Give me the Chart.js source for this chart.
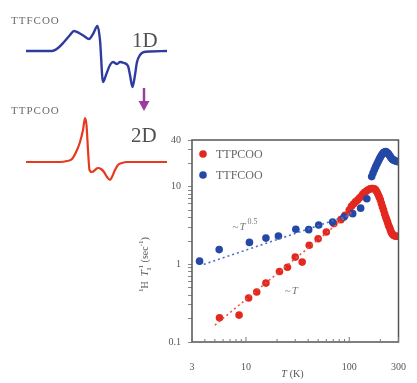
<!DOCTYPE html>
<html>
<head>
<meta charset="utf-8">
<script src="https://cdn.jsdelivr.net/npm/chart.js@4.4.1/dist/chart.umd.min.js"></script>
<style>
  body { margin: 0; background: #fff; }
  #wrap { position: relative; width: 417px; height: 383px; }
  #wrap canvas { position: absolute; left: 0; top: 0; }
</style>
</head>
<body>
<div id="wrap">
  <canvas id="rateChart" width="417" height="383"></canvas>
  <canvas id="specChart" width="200" height="200"></canvas>
</div>
<script>
// ---- relaxation rate data (T in K, 1H T1^-1 in sec^-1)
const seriesNames = ['TTPCOO', 'TTFCOO'];

const tempBlue = [3.55, 5.5, 10.8, 15.6, 20.6, 30.4, 40.5, 50.6, 69, 89, 108, 129, 148,
  165, 170, 175, 180, 185, 190, 195, 200, 205, 210, 215, 220, 225, 230, 235, 240, 245,
  250, 255, 260, 265, 270, 280, 290, 300];
const rateBlue = [1.10, 1.55, 1.92, 2.18, 2.32, 2.83, 2.8, 3.21, 3.51, 4.08, 4.5, 5.3, 7.0,
  13.5, 15, 16.5, 18, 19.5, 21, 22.5, 24, 25.5, 26.5, 27.5, 28, 28.3, 28, 27.2, 26.5, 25.5,
  24.5, 23.5, 22.8, 22.3, 22, 21.5, 21.2, 21];

const tempRed = [5.54, 8.57, 10.6, 12.7, 15.6, 21.1, 25.2, 30, 35, 41, 50, 60, 71, 83, 91,
  100, 105, 110, 115, 120, 125, 130, 135, 140, 145, 150, 155, 160, 165, 170, 175, 180, 185,
  190, 195, 200, 205, 210, 215, 220, 225, 230, 235, 240, 245, 250, 255, 260, 265, 270, 280, 290, 300];
const rateRed = [0.205, 0.222, 0.368, 0.44, 0.574, 0.81, 0.92, 1.24, 1.07, 1.76, 2.14, 2.61, 3.35, 3.77, 4.29,
  5.0, 5.6, 6.0, 6.4, 6.7, 7.1, 7.5, 8.0, 8.4, 8.7, 9.0, 9.2, 9.4, 9.5, 9.5, 9.4, 9.1, 8.6,
  8.0, 7.4, 6.8, 6.1, 5.5, 5.0, 4.5, 4.1, 3.8, 3.5, 3.2, 3.0, 2.8, 2.6, 2.5, 2.4, 2.35, 2.3, 2.3, 2.3];

// power-law guides
const fitBlueT = [3.9, 105];
const fitBlueRate = [1.0, 4.4];
const fitRedT = [5, 110];
const fitRedRate = [0.165, 4.95];

const xTickLabels = [3, 10, 100, 300];
const yTickLabels = [0.1, 1, 10, 40];

// ---- EPR-like spectra (arbitrary field / signal units)
const fieldBlue = [26, 52, 58, 64, 70, 74, 79, 84, 89, 93, 97.5, 100, 103, 106, 110, 113, 117,
  120, 124, 128, 130, 132.5, 135, 137, 140, 144, 150, 167];
const signalBlue = [0, 0, 3, 9, 16, 20, 18, 15, 12, 17, 25, 11, -31, -24, -14, -11, -13,
  -11, -12, -15, -24, -36, -24, -11, -4, -1, -0.5, 0];
const fieldRed = [26, 60, 67, 72, 77, 80, 83, 85, 86.5, 88, 89.5, 92, 95, 98, 101, 104, 107,
  110, 112, 115, 118, 122, 127, 167];
const signalRed = [0, 0, 1, 3, 12, 20, 32, 44, 37, 12, -8, -10, -8, -6, -7, -10, -15,
  -18, -15, -8, -3, -1, 0, 0];

const RED = '#e3281f';
const BLUE = '#2448a6';
const SERIF = '"Liberation Serif", "DejaVu Serif", serif';

function pts(xs, ys) {
  return xs.map((x, i) => ({ x: x, y: ys[i] }));
}

function logTicks(min, max) {
  const out = [];
  for (let e = -2; e <= 3; e++) {
    for (let m = 1; m <= 9; m++) {
      const v = +(m * Math.pow(10, e)).toPrecision(3);
      if (v >= min - 1e-9 && v <= max + 1e-9) out.push({ value: v });
    }
  }
  return out;
}

// frame, inward x ticks, legend, axis titles, annotations
const ratePlugin = {
  id: 'ratePlugin',
  afterDraw(chart) {
    const ctx = chart.ctx;
    const a = chart.chartArea;
    const xs = chart.scales.x, ys = chart.scales.y;
    ctx.save();
    ctx.strokeStyle = '#555';
    ctx.lineWidth = 1.5;
    ctx.strokeRect(a.left, a.top, a.right - a.left, a.bottom - a.top);

    // x ticks pointing inward
    ctx.lineWidth = 1;
    ctx.strokeStyle = '#777';
    xs.ticks.forEach(t => {
      const px = xs.getPixelForValue(t.value);
      const major = xTickLabels.includes(t.value);
      ctx.beginPath();
      ctx.moveTo(px, a.bottom);
      ctx.lineTo(px, a.bottom - (major ? 5 : 3));
      ctx.stroke();
    });

    // legend
    const colors = [RED, BLUE];
    ctx.font = '12px ' + SERIF;
    ctx.textBaseline = 'middle';
    seriesNames.forEach((name, i) => {
      const y = a.top + 14 + i * 21;
      ctx.fillStyle = colors[i];
      ctx.beginPath();
      ctx.arc(a.left + 11, y, 3.8, 0, Math.PI * 2);
      ctx.fill();
      ctx.fillStyle = '#666';
      ctx.fillText(name, a.left + 24, y + 1);
    });

    // annotations
    ctx.fillStyle = '#777';
    ctx.textBaseline = 'alphabetic';
    let px = xs.getPixelForValue(7.4), py = ys.getPixelForValue(2.74);
    ctx.font = '11px ' + SERIF;
    ctx.fillText('~', px, py);
    let w = ctx.measureText('~').width;
    ctx.font = 'italic 11px ' + SERIF;
    ctx.fillText('T', px + w + 1, py);
    w += ctx.measureText('T').width + 3;
    ctx.font = '8px ' + SERIF;
    ctx.fillText('0.5', px + w, py - 6);

    px = xs.getPixelForValue(23.8); py = ys.getPixelForValue(0.42);
    ctx.font = '11px ' + SERIF;
    ctx.fillText('~', px, py);
    w = ctx.measureText('~').width;
    ctx.font = 'italic 11px ' + SERIF;
    ctx.fillText('T', px + w + 1, py);

    // x title
    ctx.fillStyle = '#555';
    ctx.textAlign = 'left';
    const cx = (a.left + a.right) / 2;
    ctx.font = 'italic 10px ' + SERIF;
    ctx.fillText('T', cx - 14, 377);
    ctx.font = '10px ' + SERIF;
    ctx.fillText(' (K)', cx - 8, 377);

    // y title (rotated)
    ctx.translate(148, 292);
    ctx.rotate(-Math.PI / 2);
    let x0 = 0;
    const seg = (txt, font, dy) => {
      ctx.font = font;
      ctx.fillText(txt, x0, dy);
      x0 += ctx.measureText(txt).width;
    };
    seg('1', '7px ' + SERIF, -5);
    seg('H  ', '10px ' + SERIF, 0);
    seg('T', 'italic 10px ' + SERIF, 0);
    const xs1 = x0;
    seg('-1', '7px ' + SERIF, -5);
    ctx.font = '7px ' + SERIF;
    ctx.fillText('1', xs1, 3);
    seg(' (sec', '10px ' + SERIF, 0);
    seg('-1', '7px ' + SERIF, -5);
    seg(')', '10px ' + SERIF, 0);
    ctx.restore();
  }
};

new Chart(document.getElementById('rateChart'), {
  type: 'scatter',
  data: {
    datasets: [
      { label: 'fit ~T^0.5', data: pts(fitBlueT, fitBlueRate), showLine: true, pointRadius: 0,
        borderColor: '#4a72c4', borderWidth: 1.6, borderDash: [2, 3] },
      { label: 'fit ~T', data: pts(fitRedT, fitRedRate), showLine: true, pointRadius: 0,
        borderColor: '#e0584a', borderWidth: 1.6, borderDash: [2, 3] },
      { label: seriesNames[1], data: pts(tempBlue, rateBlue), backgroundColor: BLUE,
        borderWidth: 0, pointRadius: 3.8 },
      { label: seriesNames[0], data: pts(tempRed, rateRed), backgroundColor: RED,
        borderWidth: 0, pointRadius: 3.8 }
    ]
  },
  options: {
    responsive: false,
    animation: false,
    events: [],
    layout: { padding: { top: 140, right: 8, left: 0, bottom: 0 } },
    plugins: { legend: { display: false }, tooltip: { enabled: false } },
    scales: {
      x: {
        type: 'logarithmic', min: 3, max: 300,
        afterFit: s => { s.height = 41; },
        afterBuildTicks: s => { s.ticks = logTicks(3, 300); },
        grid: { display: false },
        border: { display: false },
        ticks: {
          autoSkip: false, maxRotation: 0, padding: 11, color: '#555',
          font: { family: SERIF, size: 10 },
          callback: v => xTickLabels.includes(v) ? String(v) : ''
        }
      },
      y: {
        type: 'logarithmic', min: 0.1, max: 40,
        afterFit: s => { s.width = 192; },
        afterBuildTicks: s => { s.ticks = logTicks(0.1, 40); },
        grid: { drawOnChartArea: false, drawTicks: true, tickLength: 4, color: '#888' },
        border: { display: false },
        ticks: {
          autoSkip: false, padding: 7, color: '#555',
          font: { family: SERIF, size: 10 },
          callback: v => yTickLabels.includes(v) ? String(v) : ''
        }
      }
    }
  },
  plugins: [ratePlugin]
});

// ---- spectra panel
const BASE_BLUE = 51, BASE_RED = 162;

const specPlugin = {
  id: 'specPlugin',
  afterDraw(chart) {
    const ctx = chart.ctx;
    ctx.save();
    ctx.fillStyle = '#6a6a6a';
    ctx.font = '11px ' + SERIF;
    ctx.letterSpacing = '1px';
    ctx.textBaseline = 'alphabetic';
    ctx.fillText('TTFCOO', 11, 24);
    ctx.fillText('TTPCOO', 11, 114);
    ctx.letterSpacing = '0px';
    ctx.fillStyle = '#505050';
    ctx.font = '21px ' + SERIF;
    ctx.fillText('1D', 132, 47);
    ctx.fillText('2D', 131, 142);
    // arrow
    ctx.strokeStyle = '#9c3c9e';
    ctx.fillStyle = '#9c3c9e';
    ctx.lineWidth = 2.5;
    ctx.beginPath();
    ctx.moveTo(144, 88);
    ctx.lineTo(144, 104);
    ctx.stroke();
    ctx.beginPath();
    ctx.moveTo(138.5, 101);
    ctx.lineTo(149.5, 101);
    ctx.lineTo(144, 111);
    ctx.closePath();
    ctx.fill();
    ctx.restore();
  }
};

new Chart(document.getElementById('specChart'), {
  type: 'line',
  data: {
    datasets: [
      { label: 'TTFCOO', data: fieldBlue.map((f, i) => ({ x: f, y: signalBlue[i] - BASE_BLUE })),
        borderColor: '#2f3b9e', borderWidth: 2.4, pointRadius: 0, cubicInterpolationMode: 'monotone', clip: false },
      { label: 'TTPCOO', data: fieldRed.map((f, i) => ({ x: f, y: signalRed[i] - BASE_RED })),
        borderColor: '#e8381f', borderWidth: 2.2, pointRadius: 0, cubicInterpolationMode: 'monotone', clip: false }
    ]
  },
  options: {
    responsive: false,
    animation: false,
    events: [],
    layout: { padding: 0 },
    plugins: { legend: { display: false }, tooltip: { enabled: false } },
    scales: {
      x: { type: 'linear', min: 0, max: 200, display: false },
      y: { type: 'linear', min: -200, max: 0, display: false }
    }
  },
  plugins: [specPlugin]
});
</script>
</body>
</html>
